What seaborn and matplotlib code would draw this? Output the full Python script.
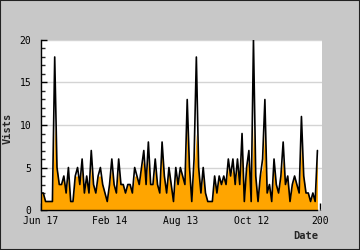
import matplotlib
matplotlib.use("Agg")
import matplotlib.pyplot as plt
from matplotlib.patches import Rectangle
from matplotlib.ticker import MultipleLocator
import seaborn as sns
import pandas as pd

visits = [2, 2, 1, 1, 1, 1, 18, 5, 3, 3, 4, 2, 5, 1, 1, 4, 5, 3, 6, 2,
          4, 2, 7, 3, 2, 4, 5, 3, 2, 1, 3, 6, 3, 2, 6, 3, 3, 2, 3, 3,
          2, 5, 4, 3, 5, 7, 3, 8, 3, 3, 6, 3, 2, 8, 4, 2, 5, 3, 1, 5,
          3, 5, 4, 3, 13, 5, 1, 6, 18, 5, 2, 5, 2, 1, 1, 1, 4, 2, 4, 3,
          4, 3, 6, 4, 6, 3, 6, 3, 9, 1, 5, 7, 1, 20, 4, 1, 4, 6, 13, 2,
          3, 1, 6, 3, 2, 4, 8, 3, 4, 1, 3, 4, 3, 2, 11, 4, 2, 2, 1, 2,
          1, 7]
unique = [2, 2, 1, 1, 1, 1, 10, 5, 3, 3, 4, 2, 4, 1, 1, 4, 4, 3, 5, 2,
          4, 2, 5, 3, 2, 4, 4, 3, 2, 1, 3, 5, 3, 2, 5, 3, 3, 2, 3, 3,
          2, 4, 4, 3, 5, 6, 3, 6, 3, 3, 5, 3, 2, 7, 4, 2, 5, 3, 1, 4,
          3, 5, 4, 3, 10, 5, 1, 5, 9, 5, 2, 4, 2, 1, 1, 1, 4, 2, 4, 3,
          4, 3, 5, 4, 5, 3, 5, 3, 8, 1, 5, 6, 1, 10, 4, 1, 4, 5, 10, 2,
          3, 1, 5, 3, 2, 4, 6, 3, 4, 1, 3, 4, 3, 2, 8, 4, 2, 2, 1, 2,
          1, 7]
tick_index = [0, 30, 61, 92, 122]
tick_labels = ["Jun 17", "Feb 14", "Aug 13", "Oct 12", "200"]

df = pd.DataFrame({"day": range(len(visits)), "visits": visits, "unique": unique})

sns.set_style("white")
plt.rcParams["font.family"] = ["DejaVu Sans Mono"]

fig = plt.figure(figsize=(3.6, 2.5), dpi=100, facecolor="#c8c8c8")
ax = fig.add_axes([41/360, 40/250, 281/360, 170/250])
ax.set_facecolor("white")

ax.fill_between(df["day"], df["unique"], 0, color="#ffa500", lw=0, zorder=2)
sns.lineplot(data=df, x="day", y="visits", ax=ax, color="black", lw=1.2, zorder=3)

ax.set_xlim(0, 123)
ax.set_ylim(0, 20)
ax.set_xticks(tick_index)
ax.set_xticklabels(tick_labels)
ax.yaxis.set_major_locator(MultipleLocator(5))
ax.yaxis.set_minor_locator(MultipleLocator(1))
ax.tick_params(axis="y", which="major", direction="in", length=4, width=1, pad=7,
               labelsize=7, colors="black", left=True)
ax.tick_params(axis="y", which="minor", direction="in", length=3, width=1, left=True)
ax.tick_params(axis="x", which="major", direction="in", length=5, width=1, pad=4.5,
               labelsize=7, colors="black", bottom=True)

ax.grid(axis="y", which="major", color="#d4d4d4", lw=1, zorder=0)
ax.set_axisbelow(True)
ax.yaxis.get_gridlines()[-1].set_visible(False)

for s in ["top", "right"]:
    ax.spines[s].set_visible(False)
for s in ["left", "bottom"]:
    ax.spines[s].set_color("black")
    ax.spines[s].set_linewidth(1)
    ax.spines[s].set_zorder(4)
ax.spines["bottom"].set_bounds(0, len(visits) - 1)

ax.set_xlabel("Date", fontsize=7.5, fontweight="bold", ha="right")
ax.xaxis.set_label_coords(318/281 - 41/281, -0.125)
ax.set_ylabel("Vists", fontsize=7.5, fontweight="bold")
ax.yaxis.set_label_coords(-0.1, 0.48)

fig.patches.append(Rectangle((0, 0), 1, 1, transform=fig.transFigure, fill=False,
                             edgecolor="#222222", lw=1.5))

fig.savefig("out.png", dpi=100, facecolor=fig.get_facecolor())
